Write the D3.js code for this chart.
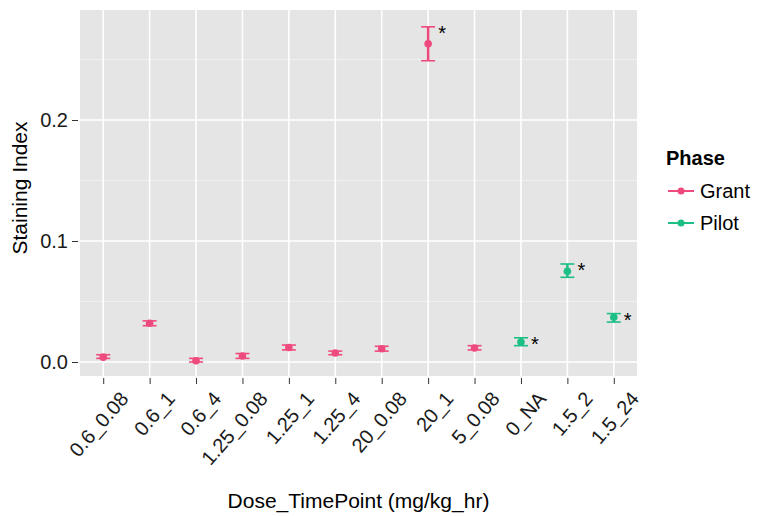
<!DOCTYPE html>
<html>
<head>
<meta charset="utf-8">
<script src="https://cdn.jsdelivr.net/npm/d3@7"></script>
<style>
  body { margin: 0; background: #fff; }
  text { font-family: "Liberation Sans", Arial, sans-serif; }
</style>
</head>
<body>
<div id="chart"></div>
<script>
// data
var doses = ["0.6_0.08", "0.6_1", "0.6_4", "1.25_0.08", "1.25_1", "1.25_4",
             "20_0.08", "20_1", "5_0.08", "0_NA", "1.5_2", "1.5_24"];
var phases = ["Grant", "Grant", "Grant", "Grant", "Grant", "Grant",
              "Grant", "Grant", "Grant", "Pilot", "Pilot", "Pilot"];
var means = [0.004, 0.032, 0.001, 0.005, 0.012, 0.0075, 0.011, 0.263, 0.0116, 0.0165, 0.075, 0.037];
var lows  = [0.003, 0.030, 0.000, 0.003, 0.010, 0.006, 0.009, 0.249, 0.0100, 0.0135, 0.070, 0.033];
var highs = [0.006, 0.034, 0.003, 0.007, 0.014, 0.009, 0.013, 0.277, 0.0135, 0.0200, 0.081, 0.040];
var stars = ["", "", "", "", "", "", "", "*", "", "*", "*", "*"];
var yTicks = [0, 0.1, 0.2];
var yMinor = [0.05, 0.15, 0.25];
var phaseNames = ["Grant", "Pilot"];
var phaseColors = ["#EE4A7D", "#1DBF85"];

var width = 762, height = 516;
var panel = { left: 80, right: 637, top: 10, bottom: 376 };
var fontSize = 20;

var svg = d3.select("#chart").append("svg")
  .attr("width", width)
  .attr("height", height);

var x = d3.scalePoint().domain(doses)
  .range([panel.left, panel.right]).padding(0.5);
var y = d3.scaleLinear().domain([0, 0.1])
  .range([362, 241]);
var color = d3.scaleOrdinal().domain(phaseNames).range(phaseColors);

var rows = doses.map(function(d, i) {
  return { dose: d, phase: phases[i], mean: means[i], lo: lows[i], hi: highs[i], star: stars[i] };
});

// panel background
svg.append("rect")
  .attr("x", panel.left).attr("y", panel.top)
  .attr("width", panel.right - panel.left)
  .attr("height", panel.bottom - panel.top)
  .attr("fill", "#E5E5E5");

// minor grid
svg.append("g").selectAll("line").data(yMinor).enter().append("line")
  .attr("x1", panel.left).attr("x2", panel.right)
  .attr("y1", function(d) { return y(d); })
  .attr("y2", function(d) { return y(d); })
  .attr("stroke", "#F2F2F2").attr("stroke-width", 0.8);

// major grid
svg.append("g").selectAll("line").data(yTicks).enter().append("line")
  .attr("x1", panel.left).attr("x2", panel.right)
  .attr("y1", function(d) { return y(d); })
  .attr("y2", function(d) { return y(d); })
  .attr("stroke", "#fff").attr("stroke-width", 1.6);

svg.append("g").selectAll("line").data(doses).enter().append("line")
  .attr("x1", function(d) { return x(d); })
  .attr("x2", function(d) { return x(d); })
  .attr("y1", panel.top).attr("y2", panel.bottom)
  .attr("stroke", "#fff").attr("stroke-width", 1.6);

// y axis
var yAxis = svg.append("g")
  .attr("transform", "translate(" + (panel.left - 2) + ",0)")
  .call(d3.axisLeft(y).tickValues(yTicks).tickFormat(d3.format(".1f")).tickSize(6).tickPadding(4));
yAxis.select(".domain").remove();
yAxis.selectAll(".tick line").attr("stroke", "#333");
yAxis.selectAll(".tick text").attr("font-size", fontSize).attr("fill", "#1a1a1a");

// x axis
var xAxis = svg.append("g")
  .attr("transform", "translate(0," + (panel.bottom + 2) + ")")
  .call(d3.axisBottom(x).tickSize(6).tickPadding(4));
xAxis.select(".domain").remove();
xAxis.selectAll(".tick line").attr("stroke", "#333");
xAxis.selectAll(".tick text")
  .attr("font-size", fontSize).attr("fill", "#1a1a1a")
  .attr("text-anchor", "end")
  .attr("dy", "0.75em")
  .attr("transform", "translate(7,5) rotate(-49)");

// error bars
var marks = svg.append("g");
var capW = 7;
rows.forEach(function(d) {
  var cx = x(d.dose), c = color(d.phase);
  marks.append("line")
    .attr("x1", cx).attr("x2", cx)
    .attr("y1", y(d.lo)).attr("y2", y(d.hi))
    .attr("stroke", c).attr("stroke-width", 2.5);
  [d.lo, d.hi].forEach(function(v) {
    marks.append("line")
      .attr("x1", cx - capW).attr("x2", cx + capW)
      .attr("y1", y(v)).attr("y2", y(v))
      .attr("stroke", c).attr("stroke-width", 1.6);
  });
  marks.append("circle")
    .attr("cx", cx).attr("cy", y(d.mean))
    .attr("r", 3.8).attr("fill", c);
  if (d.star) {
    marks.append("text")
      .attr("x", cx + 10).attr("y", y(d.hi) + 13)
      .attr("font-size", 20).attr("fill", "#000")
      .text(d.star);
  }
});

// axis titles
svg.append("text")
  .attr("x", (panel.left + panel.right) / 2).attr("y", 508)
  .attr("text-anchor", "middle").attr("font-size", fontSize + 1).attr("fill", "#000")
  .text("Dose_TimePoint (mg/kg_hr)");

svg.append("text")
  .attr("transform", "translate(27," + ((panel.top + panel.bottom) / 2 - 5) + ") rotate(-90)")
  .attr("text-anchor", "middle").attr("font-size", fontSize + 1).attr("fill", "#000")
  .text("Staining Index");

// legend
var legend = svg.append("g").attr("transform", "translate(666,0)");
legend.append("text")
  .attr("x", 0).attr("y", 165)
  .attr("font-size", fontSize).attr("font-weight", "bold").attr("fill", "#000")
  .text("Phase");
phaseNames.forEach(function(p, i) {
  var ky = 191 + i * 32;
  legend.append("line")
    .attr("x1", 2).attr("x2", 28).attr("y1", ky).attr("y2", ky)
    .attr("stroke", color(p)).attr("stroke-width", 2);
  legend.append("circle")
    .attr("cx", 15).attr("cy", ky).attr("r", 3.5).attr("fill", color(p));
  legend.append("text")
    .attr("x", 34).attr("y", ky + 7)
    .attr("font-size", fontSize).attr("fill", "#000")
    .text(p);
});
</script>
</body>
</html>
